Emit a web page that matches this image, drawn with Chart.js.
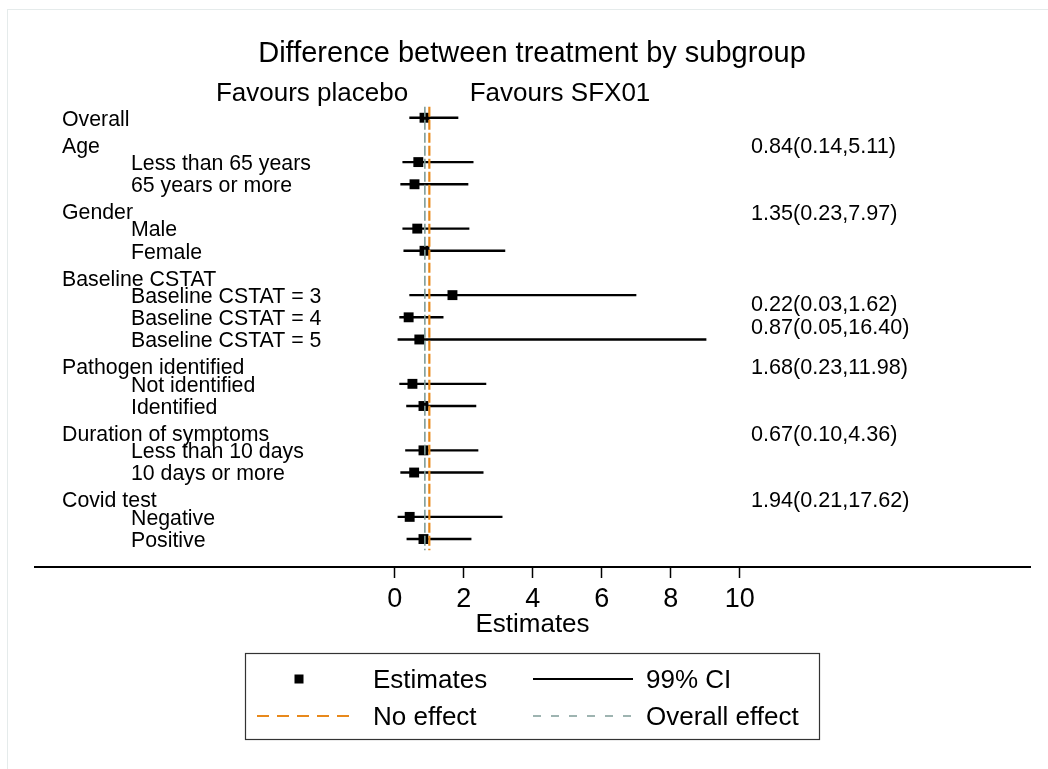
<!DOCTYPE html>
<html>
<head>
<meta charset="utf-8">
<script src="https://cdn.jsdelivr.net/npm/chart.js@4.4.0/dist/chart.umd.min.js"></script>
<style>
  html, body { margin: 0; padding: 0; background: #fff; }
  #wrap { width: 1048px; height: 769px; }
</style>
</head>
<body>
<div id="wrap"><canvas id="chartCanvas" width="1048" height="769"></canvas></div>
<script>
// ===============================
// data
// ===============================
const rowLabels = [
  "Overall",
  "Age", "Less than 65 years", "65 years or more",
  "Gender", "Male", "Female",
  "Baseline CSTAT", "Baseline CSTAT = 3", "Baseline CSTAT = 4", "Baseline CSTAT = 5",
  "Pathogen identified", "Not identified", "Identified",
  "Duration of symptoms", "Less than 10 days", "10 days or more",
  "Covid test", "Negative", "Positive"
];
const rowIsHeader = [
  true,
  true, false, false,
  true, false, false,
  true, false, false, false,
  true, false, false,
  true, false, false,
  true, false, false
];
const estimates = [0.86, null, 0.68, 0.57, null, 0.65, 0.86, null, 1.67, 0.40, 0.71, null, 0.51, 0.83, null, 0.83, 0.56, null, 0.43, 0.83];
const ciLow     = [0.42, null, 0.22, 0.16, null, 0.22, 0.25, null, 0.42, 0.13, 0.08, null, 0.13, 0.33, null, 0.30, 0.16, null, 0.08, 0.34];
const ciHigh    = [1.84, null, 2.28, 2.13, null, 2.16, 3.20, null, 7.00, 1.41, 9.03, null, 2.65, 2.36, null, 2.42, 2.57, null, 3.12, 2.22];

const noEffect = 1;
const overallEffect = 0.87;
const xTicks = [0, 2, 4, 6, 8, 10];

// interaction results printed on the right
const noteTexts = ["0.84(0.14,5.11)", "1.35(0.23,7.97)", "0.22(0.03,1.62)", "0.87(0.05,16.40)", "1.68(0.23,11.98)", "0.67(0.10,4.36)", "1.94(0.21,17.62)"];
const noteRows  = [1.22, 4.24, 8.35, 9.39, 11.19, 14.21, 17.19];

const FONT = "'Liberation Sans', Arial, Helvetica, sans-serif";
const ORANGE = "#e8891c";
const GREY = "#7f9c98";

// ===============================
// build datasets
// ===============================
const pointData = [];
const ciData = [];
estimates.forEach((v, i) => {
  if (v === null) return;
  pointData.push({ x: v, y: i });
  ciData.push({ x: ciLow[i], y: i }, { x: ciHigh[i], y: i }, { x: null, y: null });
});
const lastRow = rowLabels.length - 1;

// ===============================
// texts + legend drawn on the canvas
// ===============================
const textPlugin = {
  id: "forestText",
  beforeDraw(chart) {
    const c = chart.ctx;
    c.save();
    c.fillStyle = "#fff";
    c.fillRect(0, 0, chart.width, chart.height);
    c.strokeStyle = "#e5ebeb";
    c.lineWidth = 1;
    c.strokeRect(7.5, 9.5, chart.width + 20, chart.height + 20);
    c.restore();
  },
  afterDraw(chart) {
    const c = chart.ctx;
    const ys = chart.scales.y;
    const dy = 2; // canvas "middle" sits a little high
    c.save();
    c.fillStyle = "#000";
    c.textBaseline = "middle";

    // title
    c.textAlign = "center";
    c.font = "29px " + FONT;
    c.fillText("Difference between treatment by subgroup", 532, 52 + dy);
    c.font = "26px " + FONT;
    c.fillText("Favours placebo", 312, 92 + dy);
    c.fillText("Favours SFX01", 560, 92 + dy);

    // row labels
    c.textAlign = "left";
    c.font = "21.3px " + FONT;
    rowLabels.forEach((lab, i) => {
      const head = rowIsHeader[i];
      const y = ys.getPixelForValue(head && i > 0 ? i + 0.22 : i);
      c.fillText(lab, head ? 62 : 131, y + dy);
    });
    c.font = "21.6px " + FONT;
    noteTexts.forEach((t, i) => {
      c.fillText(t, 751, ys.getPixelForValue(noteRows[i]) + dy);
    });

    // legend
    const ds = chart.data.datasets;
    c.strokeStyle = "#333";
    c.lineWidth = 1.2;
    c.strokeRect(245.5, 653.5, 574, 86);
    const r1 = 679, r2 = 716;
    c.fillStyle = "#000";
    c.fillRect(294.5, r1 - 4.5, 9, 9);
    c.font = "26px " + FONT;
    c.fillText("Estimates", 373, r1 + dy);
    c.fillText("99% CI", 646, r1 + dy);
    c.fillText("No effect", 373, r2 + dy);
    c.fillText("Overall effect", 646, r2 + dy);

    c.strokeStyle = ds[3].borderColor;
    c.lineWidth = 2.2;
    c.beginPath(); c.moveTo(533, r1); c.lineTo(633, r1); c.stroke();

    c.strokeStyle = ds[0].borderColor;
    c.lineWidth = 2.2;
    c.setLineDash([12, 8]);
    c.beginPath(); c.moveTo(257, r2); c.lineTo(352, r2); c.stroke();

    c.strokeStyle = ds[1].borderColor;
    c.lineWidth = 1.5;
    c.setLineDash([8, 10]);
    c.beginPath(); c.moveTo(533, r2); c.lineTo(633, r2); c.stroke();
    c.restore();
  }
};

// ===============================
// chart
// ===============================
const ctx = document.getElementById("chartCanvas").getContext("2d");
new Chart(ctx, {
  type: "scatter",
  data: {
    datasets: [
      {
        label: "No effect",
        data: [{ x: noEffect, y: -0.5 }, { x: noEffect, y: lastRow + 0.5 }],
        showLine: true,
        borderColor: ORANGE,
        borderWidth: 2.2,
        borderDash: [10, 3],
        pointRadius: 0,
        order: 0
      },
      {
        label: "Overall effect",
        data: [{ x: overallEffect, y: -0.5 }, { x: overallEffect, y: lastRow + 0.5 }],
        showLine: true,
        borderColor: GREY,
        borderWidth: 1.6,
        borderDash: [10, 3],
        pointRadius: 0,
        order: 0
      },
      {
        label: "Estimates",
        data: pointData,
        pointStyle: "rect",
        pointRadius: 7,
        backgroundColor: "#000",
        borderWidth: 0,
        order: 1
      },
      {
        label: "99% CI",
        data: ciData,
        showLine: true,
        spanGaps: false,
        borderColor: "#000",
        borderWidth: 2.4,
        pointRadius: 0,
        order: 2
      }
    ]
  },
  options: {
    responsive: false,
    animation: false,
    events: [],
    layout: { padding: { left: 35, right: 18, top: 100, bottom: 126 } },
    plugins: {
      legend: { display: false },
      tooltip: { enabled: false }
    },
    scales: {
      x: {
        type: "linear",
        min: -10.43,
        max: 18.41,
        afterBuildTicks: s => { s.ticks = xTicks.map(v => ({ value: v })); },
        afterFit: s => { s.height = 76; },
        grid: { drawOnChartArea: false, drawTicks: true, tickLength: 11, tickColor: "#000", tickWidth: 1.5 },
        border: { display: true, color: "#000", width: 2 },
        ticks: { color: "#000", font: { family: FONT, size: 27 }, padding: 5, maxRotation: 0, autoSkip: false },
        title: { display: true, text: "Estimates", color: "#000", font: { family: FONT, size: 26 }, padding: { top: 0, bottom: 3 } }
      },
      y: {
        type: "linear",
        reverse: true,
        min: -0.8,
        max: 20.26,
        display: false
      }
    }
  },
  plugins: [textPlugin]
});
</script>
</body>
</html>
